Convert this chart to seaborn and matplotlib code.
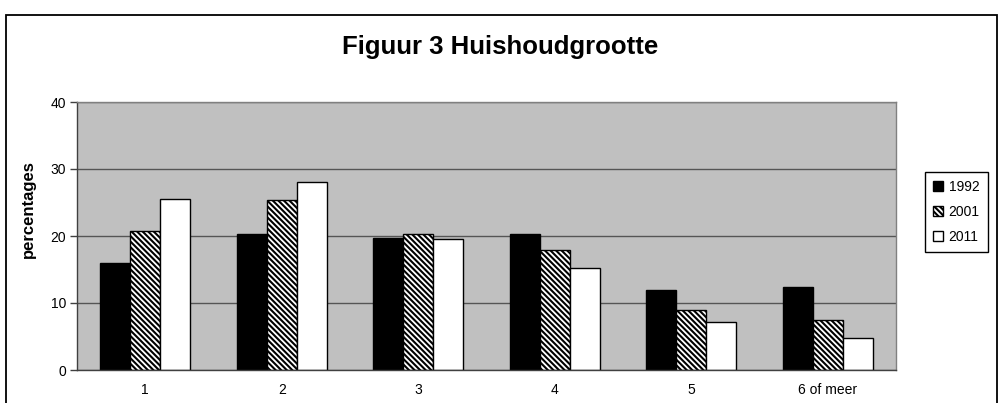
import pandas as pd
import matplotlib
matplotlib.use("Agg")
import matplotlib.pyplot as plt
import seaborn as sns
from matplotlib.patches import Rectangle

sns.set_theme(style="white")
plt.rcParams["font.family"] = ["Liberation Sans", "DejaVu Sans"]
plt.rcParams["hatch.linewidth"] = 1.5
plt.rcParams["text.color"] = "black"
plt.rcParams["axes.labelcolor"] = "black"
plt.rcParams["xtick.color"] = "black"
plt.rcParams["ytick.color"] = "black"

# data
categories = ["1", "2", "3", "4", "5", "6 of meer"]
years = ["1992", "2001", "2011"]
v1992 = [15.9, 20.3, 19.7, 20.3, 11.9, 12.4]
v2001 = [20.8, 25.3, 20.3, 17.9, 9.0, 7.4]
v2011 = [25.5, 28.1, 19.5, 15.2, 7.2, 4.8]

df = pd.DataFrame({
    "grootte": categories * 3,
    "jaar": [y for y in years for _ in categories],
    "pct": v1992 + v2001 + v2011,
})

fig = plt.figure(figsize=(10.01, 4.03), dpi=100)
ax = fig.add_axes([77 / 1001, 1 - 370 / 403, (896 - 77) / 1001, (370 - 102) / 403])

sns.barplot(data=df, x="grootte", y="pct", hue="jaar", order=categories,
            hue_order=years, palette=["black", "white", "white"],
            edgecolor="black", linewidth=1.0, width=0.66, saturation=1,
            legend=False, ax=ax)

# hatch the 2001 bars
for bar in ax.containers[1]:
    bar.set_hatch("\\" * 6)

ax.set_facecolor("#c0c0c0")
ax.set_ylim(0, 40)
ax.set_xlim(-0.5, 5.5)
ax.set_yticks([0, 10, 20, 30, 40])
ax.yaxis.grid(True, color="#555555", linewidth=1.0)
ax.set_axisbelow(True)

for side in ["top", "right"]:
    ax.spines[side].set_color("#808080")
    ax.spines[side].set_linewidth(1.0)
for side in ["left", "bottom"]:
    ax.spines[side].set_color("#404040")
    ax.spines[side].set_linewidth(1.0)

# tick marks sit between the categories on the x axis
ax.set_xticks(range(len(categories)))
ax.set_xticklabels(categories)
ax.set_xticks([i + 0.5 for i in range(-1, len(categories))], minor=True)
ax.tick_params(axis="x", which="major", length=0, labelsize=10, pad=9)
ax.tick_params(axis="x", which="minor", length=5, width=1, color="#404040", direction="out")
ax.tick_params(axis="y", length=5, width=1, color="#404040", labelsize=10, left=True, pad=3)

ax.set_xlabel("")
ax.set_ylabel("percentages", fontsize=12, fontweight="bold")
ax.yaxis.set_label_coords(-0.05, 0.6)

fig.text(0.5, 1 - 47 / 403, "Figuur 3 Huishoudgrootte", ha="center", va="center",
         fontsize=18.5, fontweight="bold")

leg = ax.legend(handles=ax.containers, labels=years, loc="center left",
                bbox_to_anchor=(918 / 1001, 1 - 212 / 403), bbox_transform=fig.transFigure,
                frameon=True, fancybox=False, edgecolor="black", fontsize=10,
                handlelength=0.7, handleheight=0.7, handletextpad=0.4,
                labelspacing=0.8, borderpad=0.6, framealpha=1)
leg.get_frame().set_linewidth(1.0)

# outer chart border
fig.patches.append(Rectangle((6 / 1001, -0.05), 991 / 1001, 1.05 - 15 / 403,
                             transform=fig.transFigure, fill=False,
                             edgecolor="black", linewidth=1.3))

fig.savefig("out.png", dpi=100)
